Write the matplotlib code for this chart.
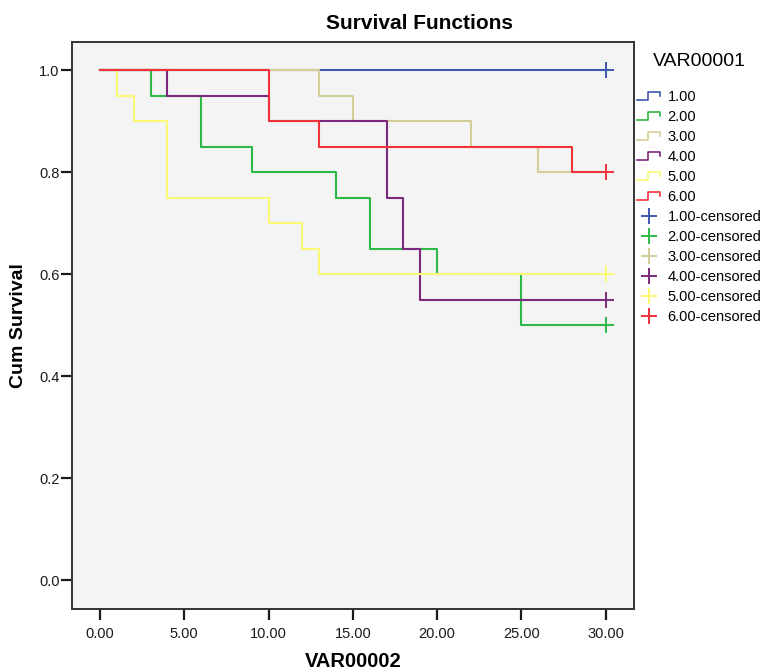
# Kaplan-Meier survival curves, six groups (SPSS style)

import matplotlib.pyplot as plt
from matplotlib.legend_handler import HandlerBase
from matplotlib.lines import Line2D

plt.rcParams['font.family'] = ['Liberation Sans', 'DejaVu Sans']

groups = ["1.00", "2.00", "3.00", "4.00", "5.00", "6.00"]
colors = ["#3E58AC", "#2EB848", "#D3CE97", "#7C287D", "#FBF873", "#EF3338"]

# step times and survival after each step (starting at time 0 with 1.0)
t1 = [0, 30];                              s1 = [1.0, 1.0]
t2 = [0, 3, 6, 9, 14, 16, 20, 25, 30];     s2 = [1.0, 0.95, 0.85, 0.80, 0.75, 0.65, 0.60, 0.50, 0.50]
t3 = [0, 13, 15, 22, 26, 30];              s3 = [1.0, 0.95, 0.90, 0.85, 0.80, 0.80]
t4 = [0, 4, 10, 17, 18, 19, 30];           s4 = [1.0, 0.95, 0.90, 0.75, 0.65, 0.55, 0.55]
t5 = [0, 1, 2, 4, 10, 12, 13, 30];         s5 = [1.0, 0.95, 0.90, 0.75, 0.70, 0.65, 0.60, 0.60]
t6 = [0, 10, 13, 28, 30];                  s6 = [1.0, 0.90, 0.85, 0.80, 0.80]

# censored observations
cens_t = [30, 30, 30, 30, 30, 30]
cens_s = [1.0, 0.50, 0.80, 0.55, 0.60, 0.80]

times = [t1, t2, t3, t4, t5, t6]
survs = [s1, s2, s3, s4, s5, s6]


class HandlerStep(HandlerBase):
    # little step glyph like SPSS legend
    def create_artists(self, legend, orig, xd, yd, width, height, fontsize, trans):
        x = [xd, xd + width * 0.45, xd + width * 0.45, xd + width * 0.95, xd + width * 0.95]
        y = [yd + height * 0.1, yd + height * 0.1, yd + height * 0.9, yd + height * 0.9, yd + height * 0.45]
        ln = Line2D(x, y, color=orig.get_color(), lw=1.2, transform=trans)
        return [ln]


fig = plt.figure(figsize=(7.65, 6.7), dpi=100)
ax = fig.add_axes([0.0941, 0.0910, 0.7346, 0.8463])
ax.set_facecolor("#F4F4F4")

step_handles = []
for t, s, c in zip(times, survs, colors):
    h, = ax.step(t, s, where='post', color=c, lw=1.5)
    step_handles.append(h)

cens_handles = []
for x, y, c in zip(cens_t, cens_s, colors):
    h, = ax.plot([x], [y], '+', color=c, ms=11, mew=1.4, ls='none')
    cens_handles.append(h)

ax.set_xlim(-1.66, 31.68)
ax.set_ylim(-0.056, 1.055)
ax.set_xticks([0, 5, 10, 15, 20, 25, 30])
ax.set_xticklabels(["0.00", "5.00", "10.00", "15.00", "20.00", "25.00", "30.00"])
ax.set_yticks([0.0, 0.2, 0.4, 0.6, 0.8, 1.0])
ax.set_yticklabels(["0.0", "0.2", "0.4", "0.6", "0.8", "1.0"])
ax.tick_params(axis='both', length=8, width=1.6, labelsize=10.5, colors='#1a1a1a')
ax.tick_params(axis='x', pad=5)
ax.tick_params(axis='y', pad=1)
for sp in ax.spines.values():
    sp.set_color('#333333')
    sp.set_linewidth(1.4)

ax.set_xlabel("VAR00002", fontsize=14.5, fontweight='bold', va='top')
ax.xaxis.set_label_coords(0.5, -0.076)
ax.set_ylabel("Cum Survival", fontsize=14, fontweight='bold', va='bottom')
ax.yaxis.set_label_coords(-0.08, 0.5)
fig.text(0.548, 0.965, "Survival Functions", fontsize=15, fontweight='bold',
         ha='center', va='center')

labels = groups + [g + "-censored" for g in groups]
handler_map = {h: HandlerStep() for h in step_handles}
leg = ax.legend(step_handles + cens_handles, labels, handler_map=handler_map,
                title="VAR00001", loc='upper left', bbox_to_anchor=(1.0, 0.985),
                frameon=False, fontsize=10.5, title_fontsize=14,
                handlelength=1.7, handletextpad=0.4, labelspacing=0.41,
                borderaxespad=0.0, borderpad=0.2)
leg._legend_box.align = "center"
leg._legend_box.sep = 14

plt.savefig("out.png", dpi=100)
plt.close(fig)
